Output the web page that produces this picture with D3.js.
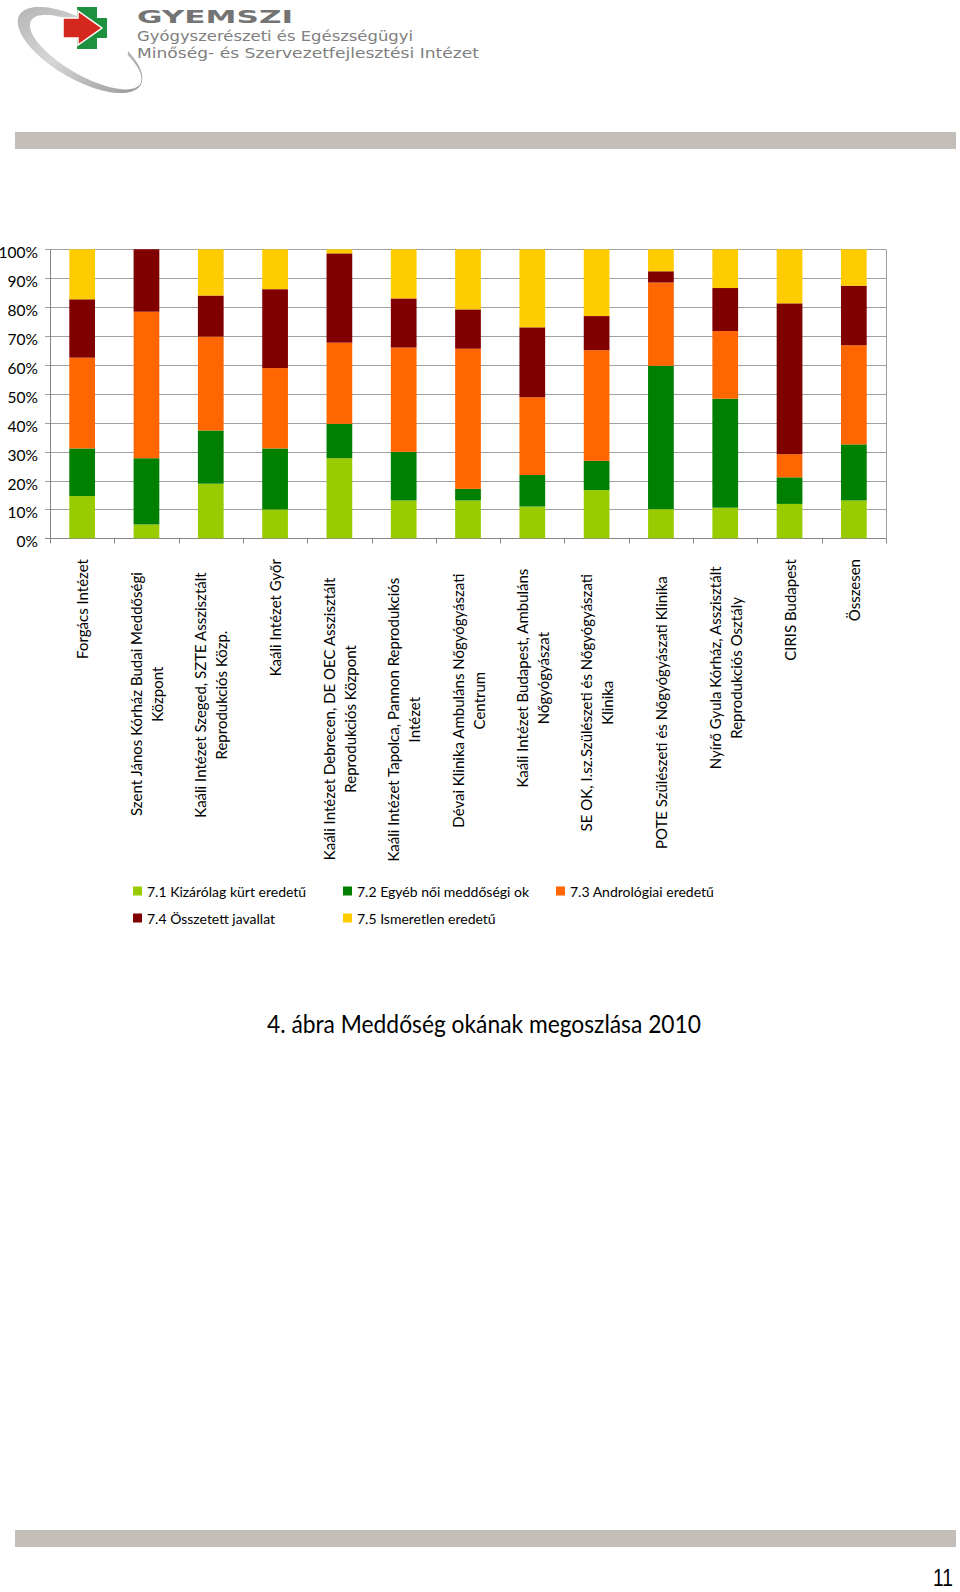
<!DOCTYPE html>
<html><head><meta charset="utf-8">
<script src="https://cdn.jsdelivr.net/npm/d3@7"></script>
<style>body{margin:0;background:#fff} svg{display:block}</style>
</head><body>
<svg id="c" width="960" height="1592"></svg>
<script>
// ---------- DATA ----------
const categories = [
  "Forgács Intézet",
  "Szent János Kórház Budai Meddőségi\nKözpont",
  "Kaáli Intézet Szeged, SZTE Asszisztált\nReprodukciós Közp.",
  "Kaáli Intézet Győr",
  "Kaáli Intézet Debrecen, DE OEC Asszisztált\nReprodukciós Központ",
  "Kaáli Intézet Tapolca, Pannon Reprodukciós\nIntézet",
  "Dévai Klinika Ambuláns Nőgyógyászati\nCentrum",
  "Kaáli Intézet Budapest, Ambuláns\nNőgyógyászat",
  "SE OK, I.sz.Szülészeti és Nőgyógyászati\nKlinika",
  "POTE Szülészeti és Nőgyógyászati Klinika",
  "Nyírő Gyula Kórház, Asszisztált\nReprodukciós Osztály",
  "CIRIS Budapest",
  "Összesen"
];
const seriesNames = ["7.1 Kizárólag kürt eredetű", "7.2 Egyéb női meddőségi ok", "7.3 Andrológiai eredetű", "7.4 Összetett javallat", "7.5 Ismeretlen eredetű"];
const s71 = [14.6, 4.8, 18.9, 10.0, 27.7, 13.1, 13.1, 11.0, 16.7, 10.1, 10.6, 11.9, 13.1];
const s72 = [16.5, 22.9, 18.4, 21.1, 11.9, 16.8, 4.0, 10.9, 10.1, 49.6, 37.7, 9.2, 19.4];
const s73 = [31.4, 50.7, 32.5, 27.8, 28.1, 36.1, 48.5, 26.9, 38.3, 28.8, 23.4, 8.0, 34.3];
const s74 = [20.2, 21.6, 14.2, 27.3, 30.9, 17.0, 13.6, 24.2, 11.8, 3.9, 14.9, 52.2, 20.6];
const s75 = [17.3, 0.0, 16.0, 13.8, 1.4, 17.0, 20.8, 27.0, 23.1, 7.6, 13.4, 18.7, 12.6];
const yTicks = [0, 10, 20, 30, 40, 50, 60, 70, 80, 90, 100];
const yTickLabels = ["0%", "10%", "20%", "30%", "40%", "50%", "60%", "70%", "80%", "90%", "100%"];
const seriesColors = ["#99cc00", "#008000", "#ff6600", "#800000", "#ffcc00"];
const title = "4. ábra Meddőség okának megoszlása 2010";
const pageNumber = "11";

// ---------- PAGE ----------
const svg = d3.select("#c");
const defs = svg.append("defs");
const FONT = "Lato, 'Open Sans', 'Noto Sans', sans-serif";

// gray bands
svg.append("rect").attr("x", 15).attr("y", 132).attr("width", 941).attr("height", 17).attr("fill", "#c3bfb8");
svg.append("rect").attr("x", 15).attr("y", 1530).attr("width", 941).attr("height", 17).attr("fill", "#c3bfb8");

// ---------- LOGO ----------
const grad = defs.append("linearGradient").attr("id", "sw")
  .attr("x1", "0").attr("y1", "0").attr("x2", "1").attr("y2", "1");
grad.append("stop").attr("offset", "0").attr("stop-color", "#b5b5b5");
grad.append("stop").attr("offset", "0.45").attr("stop-color", "#d6d6d6");
grad.append("stop").attr("offset", "1").attr("stop-color", "#9a9a9a");

(function () {
  const cx = 80, cy = 50, rot = 30 * Math.PI / 180;
  const outer = { ox: 0, oy: 0, rx: 70, ry: 29 };
  const inner = { ox: 6, oy: -1, rx: 63, ry: 23 };
  const pt = (e, t) => {
    const u = e.ox + e.rx * Math.cos(t), v = e.oy + e.ry * Math.sin(t);
    return [cx + u * Math.cos(rot) - v * Math.sin(rot), cy + u * Math.sin(rot) + v * Math.cos(rot)];
  };
  const ts = d3.range(-95, -416, -3).map(d => d * Math.PI / 180);
  const pts = ts.map(t => pt(outer, t)).concat(ts.slice().reverse().map(t => pt(inner, t)));
  svg.append("path").attr("d", d3.line()(pts) + "Z").attr("fill", "url(#sw)");
})();
// green cross
svg.append("path").attr("fill", "#1e9140")
  .attr("d", "M77,7H97V18H107V38H97V49H77V38H66V18H77Z");
// red arrow
svg.append("path").attr("fill", "#d4281e").attr("stroke", "#fff").attr("stroke-width", 1.5)
  .attr("d", "M63,18H78V11L102,28L78,45V38H63Z");

svg.append("text").text("GYEMSZI").attr("x", 137).attr("y", 23)
  .attr("font-family", "'DejaVu Sans', sans-serif").attr("font-weight", "bold").attr("font-size", 17.5)
  .attr("textLength", 156).attr("lengthAdjust", "spacingAndGlyphs").attr("fill", "#747474");
svg.append("text").text("Gyógyszerészeti és Egészségügyi").attr("x", 137).attr("y", 41)
  .attr("font-family", "'DejaVu Sans', sans-serif").attr("font-size", 14)
  .attr("textLength", 276).attr("lengthAdjust", "spacingAndGlyphs").attr("fill", "#808080");
svg.append("text").text("Minőség- és Szervezetfejlesztési Intézet").attr("x", 137).attr("y", 58)
  .attr("font-family", "'DejaVu Sans', sans-serif").attr("font-size", 14)
  .attr("textLength", 342).attr("lengthAdjust", "spacingAndGlyphs").attr("fill", "#808080");

// ---------- CHART ----------
const M = { left: 50, right: 886, top: 249.3, bottom: 538.3 };
const x = d3.scaleBand().domain(d3.range(categories.length)).range([M.left, M.right])
  .paddingInner(0.6).paddingOuter(0.3);
const y = d3.scaleLinear().domain([0, 100]).range([M.bottom, M.top]);
const step = x.step();
const crisp = v => Math.round(v) + 0.5;

// gridlines + y ticks
const grid = svg.append("g");
yTicks.forEach((t, i) => {
  const yy = crisp(y(t));
  grid.append("line").attr("x1", M.left - 5).attr("x2", M.right).attr("y1", yy).attr("y2", yy)
    .attr("stroke", t === 0 ? "#868686" : "#a0a0a0").attr("stroke-width", 1);
  grid.append("text").text(yTickLabels[i]).attr("x", 38).attr("y", y(t) + 3)
    .attr("text-anchor", "end").attr("dominant-baseline", "central")
    .attr("font-family", FONT).attr("font-size", 15.5).attr("fill", "#000");
});
// right border & left axis
grid.append("line").attr("x1", crisp(M.right)).attr("x2", crisp(M.right)).attr("y1", crisp(y(100))).attr("y2", crisp(y(0)))
  .attr("stroke", "#a0a0a0");
grid.append("line").attr("x1", crisp(M.left)).attr("x2", crisp(M.left)).attr("y1", crisp(y(100))).attr("y2", crisp(y(0)))
  .attr("stroke", "#868686");
// category tick marks
d3.range(categories.length + 1).forEach(i => {
  const xx = crisp(M.left + i * step);
  grid.append("line").attr("x1", xx).attr("x2", xx).attr("y1", crisp(y(0))).attr("y2", crisp(y(0)) + 5)
    .attr("stroke", "#868686");
});

// stacked bars
const table = categories.map((c, i) => ({ i, a: s71[i], b: s72[i], c: s73[i], d: s74[i], e: s75[i] }));
const keys = ["a", "b", "c", "d", "e"];
const stacked = d3.stack().keys(keys)(table);
svg.append("g").selectAll("g").data(stacked).join("g")
  .attr("fill", (d, k) => seriesColors[k])
  .selectAll("rect").data(d => d).join("rect")
  .attr("x", d => x(d.data.i)).attr("width", x.bandwidth())
  .attr("y", d => y(d[1])).attr("height", d => y(d[0]) - y(d[1]));

// category labels (rotated)
const labG = svg.append("g").attr("font-family", FONT).attr("font-size", 15).attr("fill", "#000");
categories.forEach((c, i) => {
  const lines = c.split("\n");
  const cx = x(i) + x.bandwidth() / 2;
  const texts = lines.map(ln => labG.append("text").text(ln)
    .attr("text-anchor", "middle").attr("dominant-baseline", "central"));
  const L = d3.max(texts, t => t.node().getComputedTextLength());
  const top = 559 + Math.max(0, (L - 150) * 0.14);
  const cy = top + L / 2;
  texts.forEach((t, k) => {
    const lx = cx + (k - (lines.length - 1) / 2) * 21;
    t.attr("transform", `translate(${lx},${cy}) rotate(-90)`);
  });
});

// legend
const legCols = [133, 343, 556], legRows = [891, 918];
const leg = svg.append("g").attr("font-family", FONT).attr("font-size", 14);
seriesNames.forEach((n, k) => {
  const col = k < 3 ? k : k - 3, row = k < 3 ? 0 : 1;
  const lx = legCols[col], ly = legRows[row];
  leg.append("rect").attr("x", lx).attr("y", ly - 4.5).attr("width", 9).attr("height", 9).attr("fill", seriesColors[k]);
  leg.append("text").text(n).attr("x", lx + 14).attr("y", ly).attr("dominant-baseline", "central").attr("fill", "#000");
});

// title
svg.append("text").text(title).attr("x", 484).attr("y", 1033).attr("text-anchor", "middle")
  .attr("font-family", FONT).attr("font-size", 25)
  .attr("textLength", 434).attr("lengthAdjust", "spacingAndGlyphs").attr("fill", "#000");

// page number
svg.append("text").text(pageNumber).attr("transform", "translate(953,1586) scale(0.8,1)")
  .attr("text-anchor", "end").attr("font-family", "'Liberation Sans', sans-serif").attr("font-size", 24).attr("fill", "#000");
</script>
</body></html>
